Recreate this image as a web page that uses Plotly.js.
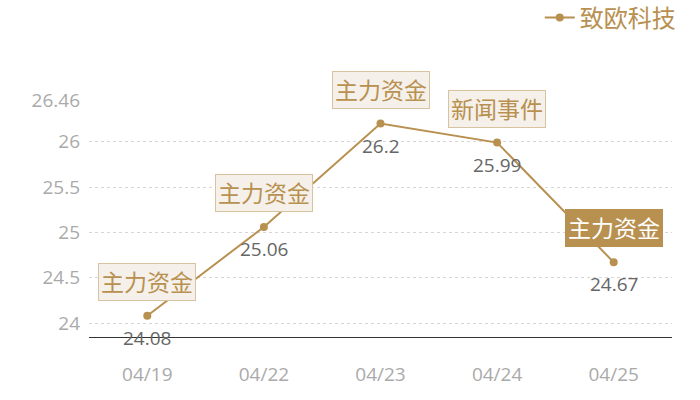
<!DOCTYPE html>
<html>
<head>
<meta charset="utf-8">
<script src="https://cdn.plot.ly/plotly-3.0.1.min.js"></script>
<style>
html, body { margin: 0; padding: 0; background: #fff; }
#chart { width: 700px; height: 400px; }
</style>
</head>
<body>
<div id="chart"></div>
<script>
let dates = ["04/19", "04/22", "04/23", "04/24", "04/25"]
let prices = [24.08, 25.06, 26.2, 25.99, 24.67]
let tags = ["主力资金", "主力资金", "主力资金", "新闻事件", "主力资金"]
let tickValues = [24, 24.5, 25, 25.5, 26, 26.46]

let gold = "#b8904f"
let fontFamily = "Open Sans, Noto Sans CJK SC, sans-serif"

let trace = {
    x: dates,
    y: prices,
    name: "致欧科技",
    type: "scatter",
    mode: "lines+markers",
    line: { color: gold, width: 2 },
    marker: { color: gold, size: 8 },
    cliponaxis: false,
    hoverinfo: "x+y"
}

// tag boxes above the points, the last one highlighted with a filled box
let tagNotes = dates.map((d, i) => {
    let last = i === dates.length - 1
    return {
        x: d,
        y: prices[i],
        yshift: 34,
        text: tags[i],
        showarrow: false,
        font: { size: 23, color: last ? "#fff" : gold, family: fontFamily },
        bgcolor: last ? gold : "#f5f0ea",
        bordercolor: last ? gold : "#d8c3a0",
        borderwidth: 1,
        borderpad: 2
    }
})

// value labels below the points
let valueNotes = dates.map((d, i) => ({
    x: d,
    y: prices[i],
    yshift: -22,
    text: String(prices[i]),
    showarrow: false,
    font: { size: 19, color: "#666", family: fontFamily }
}))

let layout = {
    width: 700,
    height: 400,
    margin: { l: 89, r: 28, t: 100, b: 63, autoexpand: false },
    paper_bgcolor: "#fff",
    plot_bgcolor: "#fff",
    font: { family: fontFamily },
    showlegend: true,
    legend: {
        orientation: "h",
        x: 1.015,
        xanchor: "right",
        yref: "container",
        y: 0.955,
        yanchor: "middle",
        font: { size: 24, color: gold, family: fontFamily }
    },
    xaxis: {
        type: "category",
        range: [-0.5, 4.5],
        showgrid: false,
        showline: true,
        linecolor: "#333",
        linewidth: 1,
        ticks: "",
        tickfont: { size: 19, color: "#aaa" },
        ticklabelstandoff: 20,
        zeroline: false
    },
    yaxis: {
        range: [23.846, 26.46],
        tickvals: tickValues,
        ticktext: tickValues.map(v => String(v)),
        gridcolor: "#d6d6d6",
        griddash: "dot",
        tickfont: { size: 19, color: "#aaa" },
        ticklabelstandoff: 8,
        zeroline: false,
        showline: false
    },
    annotations: tagNotes.concat(valueNotes)
}

Plotly.newPlot("chart", [trace], layout, { displayModeBar: false })
</script>
</body>
</html>
